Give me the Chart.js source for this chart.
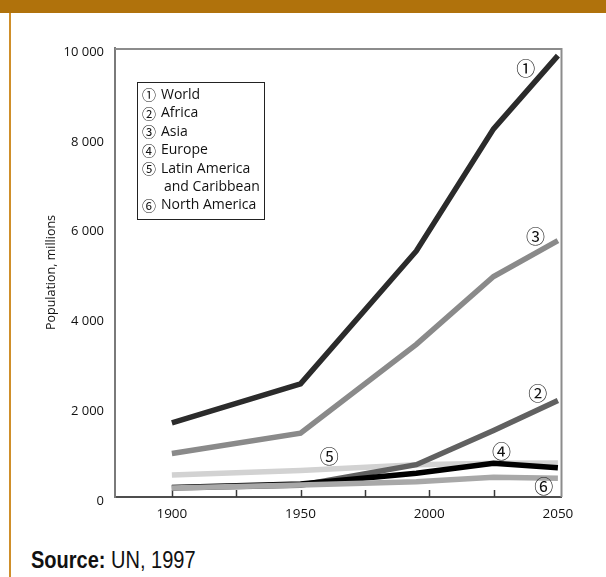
<!DOCTYPE html>
<html>
<head>
<meta charset="utf-8">
<title>Population by region, 1900–2050</title>
<script src="https://cdn.jsdelivr.net/npm/chart.js@4.4.1/dist/chart.umd.min.js"></script>
<style>
  html, body { margin: 0; padding: 0; background: #ffffff; }
  body { width: 606px; height: 577px; position: relative; overflow: hidden; }
  #band { position: absolute; left: 0; top: 0; width: 606px; height: 13px; background: #b0720c; }
  #rule { position: absolute; left: 9px; top: 13px; width: 2px; height: 564px; background: #cf8f2a; }
  #wrap { position: absolute; left: 0; top: 0; width: 606px; height: 535px; }
  #source {
    position: absolute; left: 31px; top: 549px;
    font-family: "Liberation Sans Narrow", "Liberation Sans", sans-serif;
    font-size: 23px; line-height: 1; color: #111111; white-space: nowrap;
    transform: scaleX(0.87); transform-origin: 0 0;
  }
</style>
</head>
<body>
<div id="band"></div>
<div id="rule"></div>
<div id="wrap"><canvas id="chart" width="606" height="535"></canvas></div>
<div id="source"><b>Source:</b> UN, 1997</div>

<script>
// Population in millions, UN estimates and projections
const years         = [1900, 1950, 1995, 2025, 2050];
const world         = [1650, 2520, 5480, 8200, 9830];
const africa        = [200, 260, 720, 1480, 2150];
const asia          = [970, 1420, 3400, 4910, 5710];
const europe        = [210, 290, 530, 750, 650];
const latinAmerica  = [490, 590, 720, 750, 760];
const northAmerica  = [200, 270, 340, 440, 420];

const seriesNames = ['World', 'Africa', 'Asia', 'Europe', 'Latin America\nand Caribbean', 'North America'];
const seriesMarks = ['①', '②', '③', '④', '⑤', '⑥'];

const yTickValues   = [0, 2000, 4000, 6000, 8000, 10000];
const xLabelYears   = [1900, 1950, 2000, 2050];
const xMarkYears    = [1900, 1925, 1950, 1975, 2000, 2025];

const TEXT_FONT = '"Open Sans", "DejaVu Sans", sans-serif';
const MARK_FONT = '"Noto Sans CJK JP", "DejaVu Sans", sans-serif';

function toPoints(values) {
  return years.map((yr, i) => ({ x: yr, y: values[i] }));
}
function spaced(v) {
  return String(v).replace(/\B(?=(\d{3})+(?!\d))/g, ' ');
}

const seriesValues = [world, africa, asia, europe, latinAmerica, northAmerica];
const seriesColors = ['#2b2b2b', '#616161', '#8a8a8a', '#000000', '#d2d2d2', '#a8a8a8'];
// lower order is painted last (on top)
const seriesOrder  = [5, 2, 4, 1, 3, 0];

const datasets = seriesValues.map((vals, i) => ({
  label: seriesNames[i].replace('\n', ' '),
  data: toPoints(vals),
  borderColor: seriesColors[i],
  backgroundColor: seriesColors[i],
  borderWidth: 5.5,
  borderCapStyle: 'butt',
  borderJoinStyle: 'miter',
  pointRadius: 0,
  tension: 0,
  fill: false,
  order: seriesOrder[i]
}));

// Frame, inner tick marks, numbered legend box and series numbers
const decorations = {
  id: 'decorations',
  beforeDatasetsDraw(chart) {
    const { ctx, chartArea: a, scales: { x } } = chart;
    ctx.save();
    ctx.strokeStyle = '#3a3a3a';
    ctx.lineWidth = 1.5;
    xMarkYears.forEach(yr => {
      const px = Math.round(x.getPixelForValue(yr)) + 0.5;
      ctx.beginPath();
      ctx.moveTo(px, a.bottom);
      ctx.lineTo(px, a.bottom - 7);
      ctx.stroke();
    });
    ctx.restore();
  },
  afterDraw(chart, args, opts) {
    const { ctx, chartArea: a, scales: { x, y } } = chart;
    ctx.save();
    // top and right edges of the frame
    ctx.strokeStyle = '#8c8c8c';
    ctx.lineWidth = 2;
    ctx.beginPath();
    ctx.moveTo(a.left, a.top + 1);
    ctx.lineTo(a.right, a.top + 1);
    ctx.lineTo(a.right, a.bottom);
    ctx.stroke();

    // legend box
    const b = opts.box;
    ctx.strokeStyle = '#222222';
    ctx.lineWidth = 1;
    ctx.strokeRect(b.left + 0.5, b.top + 0.5, b.width, b.height);
    ctx.fillStyle = '#111111';
    ctx.textBaseline = 'middle';
    let row = 0;
    seriesNames.forEach((name, i) => {
      const lines = name.split('\n');
      const cy = b.top + b.firstRow + row * b.rowStep;
      ctx.textAlign = 'center';
      ctx.font = '14px ' + MARK_FONT;
      ctx.fillText(seriesMarks[i], b.left + b.markX, cy);
      ctx.textAlign = 'left';
      ctx.font = '14px ' + TEXT_FONT;
      lines.forEach((ln, k) => {
        ctx.fillText(ln, b.left + b.textX + (k > 0 ? 3 : 0), b.top + b.firstRow + (row + k) * b.rowStep);
      });
      row += lines.length;
    });

    // series numbers beside the lines
    ctx.font = '19px ' + MARK_FONT;
    ctx.textAlign = 'center';
    ctx.fillStyle = '#111111';
    opts.anchors.forEach((pt, i) => {
      ctx.fillText(seriesMarks[i], x.getPixelForValue(pt[0]), y.getPixelForValue(pt[1]));
    });
    ctx.restore();
  }
};

new Chart(document.getElementById('chart'), {
  type: 'line',
  data: { datasets },
  plugins: [decorations],
  options: {
    responsive: false,
    animation: false,
    devicePixelRatio: 1,
    layout: { padding: { top: 48, right: 44.5, left: 0, bottom: 0 } },
    plugins: {
      legend: { display: false },
      tooltip: { enabled: false },
      decorations: {
        box: { left: 137, top: 82, width: 127, height: 137, firstRow: 13, rowStep: 18.4, markX: 12, textX: 24 },
        anchors: [[2037.5, 9540], [2042.2, 2300], [2041.3, 5800], [2028.1, 1010], [1961.2, 900], [2044.5, 230]]
      }
    },
    scales: {
      x: {
        type: 'linear',
        min: 1877.9,
        max: 2051.4,
        afterFit(scale) { scale.height = 38; },
        afterBuildTicks(scale) { scale.ticks = xLabelYears.map(v => ({ value: v })); },
        grid: { display: false, drawTicks: false },
        border: { display: true, color: '#4d4d4d', width: 2 },
        ticks: {
          padding: 9,
          autoSkip: false,
          maxRotation: 0,
          color: '#111111',
          font: { family: TEXT_FONT, size: 13.5 },
          callback: v => String(v)
        }
      },
      y: {
        min: 0,
        max: 10000,
        afterFit(scale) { scale.width = 115; },
        afterBuildTicks(scale) { scale.ticks = yTickValues.map(v => ({ value: v })); },
        grid: { display: false, drawTicks: false },
        border: { display: true, color: '#7a7a7a', width: 2 },
        ticks: {
          padding: 11,
          labelOffset: 4,
          color: '#111111',
          font: { family: TEXT_FONT, size: 13 },
          callback: v => spaced(v)
        },
        title: {
          display: true,
          text: 'Population, millions',
          color: '#111111',
          font: { family: TEXT_FONT, size: 12.5 },
          padding: { top: 44, bottom: 0 }
        }
      }
    }
  }
});
</script>
</body>
</html>
